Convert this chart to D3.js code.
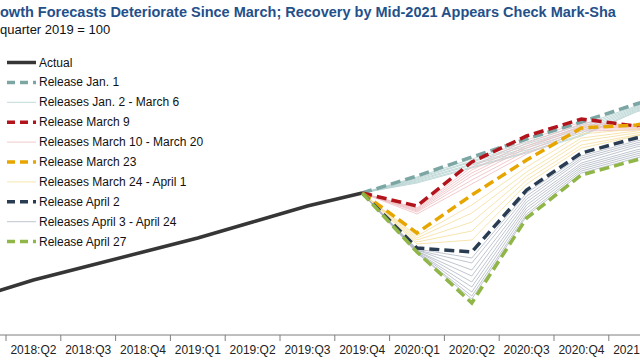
<!DOCTYPE html>
<html><head><meta charset="utf-8">
<script src="https://cdn.jsdelivr.net/npm/d3@7"></script>
<style>html,body{margin:0;padding:0;background:#fff;overflow:hidden}svg{display:block;font-family:"Liberation Sans",Arial,sans-serif}</style>
</head><body><svg id="c" width="640" height="360"></svg>
<script>
// ---------------- data ----------------
const categories = ["2018:Q1","2018:Q2","2018:Q3","2018:Q4","2019:Q1","2019:Q2","2019:Q3","2019:Q4",
                    "2020:Q1","2020:Q2","2020:Q3","2020:Q4","2021:Q1","2021:Q2"];
const tickLabels = ["2018:Q2","2018:Q3","2018:Q4","2019:Q1","2019:Q2","2019:Q3","2019:Q4",
                    "2020:Q1","2020:Q2","2020:Q3","2020:Q4","2021:Q1"];
const actualCats = ["2018:Q1","2018:Q2","2018:Q3","2018:Q4","2019:Q1","2019:Q2","2019:Q3","2019:Q4"];
const actualValues = [95.84, 96.52, 97.08, 97.64, 98.20, 98.84, 99.48, 100];
const forecastCats = ["2019:Q4","2020:Q1","2020:Q2","2020:Q3","2020:Q4","2021:Q1","2021:Q2"];

const releaseJan1   = [100, 100.68, 101.44, 102.16, 102.84, 103.56, 104.24];
const releaseMar9   = [100, 99.48, 101.24, 102.28, 102.96, 102.68, 103.40];
const releaseMar23  = [100, 98.40, 99.92, 101.32, 102.60, 102.72, 103.12];
const releaseApr2   = [100, 97.80, 97.64, 100.12, 101.60, 102.20, 102.60];
const releaseApr27  = [100, 97.64, 95.60, 99.00, 100.72, 101.32, 101.80];

const releasesJan2toMar6 = [
  [100, 100.64, 101.36, 102.04, 102.72, 103.48, 104.16],
  [100, 100.60, 101.28, 101.96, 102.64, 103.44, 104.12],
  [100, 100.56, 101.24, 101.88, 102.56, 103.40, 104.08],
  [100, 100.52, 101.16, 101.80, 102.48, 103.36, 104.04],
  [100, 100.48, 101.12, 101.72, 102.40, 103.32, 104.00],
  [100, 100.44, 101.04, 101.64, 102.32, 103.28, 103.96],
  [100, 100.40, 101.00, 101.60, 102.28, 103.24, 103.92]
];
const releasesMar10toMar20 = [
  [100, 99.40, 101.04, 102.12, 102.84, 102.72, 103.20],
  [100, 99.36, 100.92, 102.00, 102.76, 102.68, 103.12],
  [100, 99.32, 100.80, 101.88, 102.68, 102.64, 103.08],
  [100, 99.28, 100.68, 101.80, 102.64, 102.60, 103.00],
  [100, 99.24, 100.52, 101.68, 102.56, 102.56, 102.96],
  [100, 99.16, 100.36, 101.56, 102.48, 102.52, 102.92]
];
const releasesMar24toApr1 = [
  [100, 98.28, 99.52, 101.04, 102.36, 102.56, 102.92],
  [100, 98.20, 99.20, 100.84, 102.20, 102.48, 102.84],
  [100, 98.12, 98.84, 100.68, 102.08, 102.40, 102.76],
  [100, 98.04, 98.48, 100.52, 101.92, 102.32, 102.68],
  [100, 97.96, 98.12, 100.36, 101.80, 102.28, 102.64]
];
const releasesApr3toApr24 = [
  [100, 97.76, 97.40, 100.00, 101.48, 102.08, 102.48],
  [100, 97.72, 97.20, 99.88, 101.40, 102.00, 102.40],
  [100, 97.72, 96.92, 99.76, 101.32, 101.92, 102.32],
  [100, 97.68, 96.68, 99.64, 101.20, 101.84, 102.24],
  [100, 97.68, 96.44, 99.52, 101.12, 101.72, 102.16],
  [100, 97.64, 96.24, 99.40, 101.04, 101.64, 102.08],
  [100, 97.64, 96.04, 99.28, 100.96, 101.56, 102.00],
  [100, 97.60, 95.88, 99.16, 100.88, 101.48, 101.92],
  [100, 97.60, 95.76, 99.08, 100.80, 101.40, 101.88]
];

const titleText = "owth Forecasts Deteriorate Since March; Recovery by Mid-2021 Appears Check Mark-Sha";
const subtitleText = "quarter 2019 = 100";
const legendLabels = ["Actual","Release Jan. 1","Releases Jan. 2 - March 6","Release March 9",
  "Releases March 10 - March 20","Release March 23","Releases March 24 - April 1","Release April 2",
  "Releases April 3 - April 24","Release April 27"];

// ---------------- drawing ----------------
const svg = d3.select("#c");
const W = 640, H = 360;
const x = d3.scaleBand().domain(categories).range([-48.8, 718.4]).padding(0);
const y = d3.scaleLinear().domain([95, 105]).range([318, 68]);
const cx = c => x(c) + x.bandwidth() / 2;

const C = {
  actual: "#363636", teal: "#7ba6a3", red: "#b3141c", gold: "#e7a500", navy: "#293c52", green: "#8fb646",
  tealThin: "#b3d1cf", pinkThin: "#eebcc0", goldThin: "#f5dd9a", greyThin: "#afb6c3"
};

svg.append("text").attr("x", 0).attr("y", 17)
  .attr("font-size", 14.5).attr("font-weight", "bold").attr("fill", "#24508a").text(titleText);
svg.append("text").attr("x", 0).attr("y", 34)
  .attr("font-size", 13).attr("fill", "#111").text(subtitleText);

// x axis
const axisY = 335;
const ax = svg.append("g");
ax.append("line").attr("x1", 0).attr("x2", W).attr("y1", axisY).attr("y2", axisY)
  .attr("stroke", "#7f7f7f").attr("stroke-width", 1);
ax.selectAll("line.tk").data(categories).join("line").attr("class", "tk")
  .attr("x1", d => x(d)).attr("x2", d => x(d)).attr("y1", axisY).attr("y2", axisY + 6)
  .attr("stroke", "#7f7f7f").attr("stroke-width", 1);
ax.selectAll("text").data(tickLabels).join("text")
  .attr("x", d => cx(d)).attr("y", axisY + 19).attr("text-anchor", "middle")
  .attr("font-size", 12).attr("fill", "#222").text(d => d);

const lineF = d3.line().x(d => cx(d[0])).y(d => y(d[1]));
const fc = vals => forecastCats.map((c, i) => [c, vals[i]]);

function thin(group, color) {
  svg.append("g").selectAll("path").data(group).join("path")
    .attr("d", v => lineF(fc(v))).attr("fill", "none")
    .attr("stroke", color).attr("stroke-width", 0.8);
}
thin(releasesJan2toMar6, C.tealThin);
thin(releasesMar10toMar20, C.pinkThin);
thin(releasesMar24toApr1, C.goldThin);
thin(releasesApr3toApr24, C.greyThin);

svg.append("path").attr("d", lineF(actualCats.map((c, i) => [c, actualValues[i]])))
  .attr("fill", "none").attr("stroke", C.actual).attr("stroke-width", 3.5);

function dashed(vals, color) {
  svg.append("path").attr("d", lineF(fc(vals))).attr("fill", "none")
    .attr("stroke", color).attr("stroke-width", 3.5).attr("stroke-dasharray", "10,5");
}
dashed(releaseJan1, C.teal);
dashed(releaseMar9, C.red);
dashed(releaseMar23, C.gold);
dashed(releaseApr2, C.navy);
dashed(releaseApr27, C.green);

// legend
const legStyles = [
  {c: C.actual, w: 3.5, dash: null},
  {c: C.teal, w: 3.5, dash: "8,5"},
  {c: C.tealThin, w: 0.8, dash: null},
  {c: C.red, w: 3.5, dash: "8,5"},
  {c: C.pinkThin, w: 0.8, dash: null},
  {c: C.gold, w: 3.5, dash: "8,5"},
  {c: C.goldThin, w: 0.8, dash: null},
  {c: C.navy, w: 3.5, dash: "8,5"},
  {c: C.greyThin, w: 0.8, dash: null},
  {c: C.green, w: 3.5, dash: "8,5"}
];
const lg = svg.append("g");
legendLabels.forEach((lab, i) => {
  const yy = 62.5 + i * 19.9;
  const s = legStyles[i];
  lg.append("line").attr("x1", 7).attr("x2", 36).attr("y1", yy).attr("y2", yy)
    .attr("stroke", s.c).attr("stroke-width", s.w).attr("stroke-dasharray", s.dash);
  lg.append("text").attr("x", 39).attr("y", yy + 4).attr("font-size", 12).attr("fill", "#111").text(lab);
});
</script></body></html>
